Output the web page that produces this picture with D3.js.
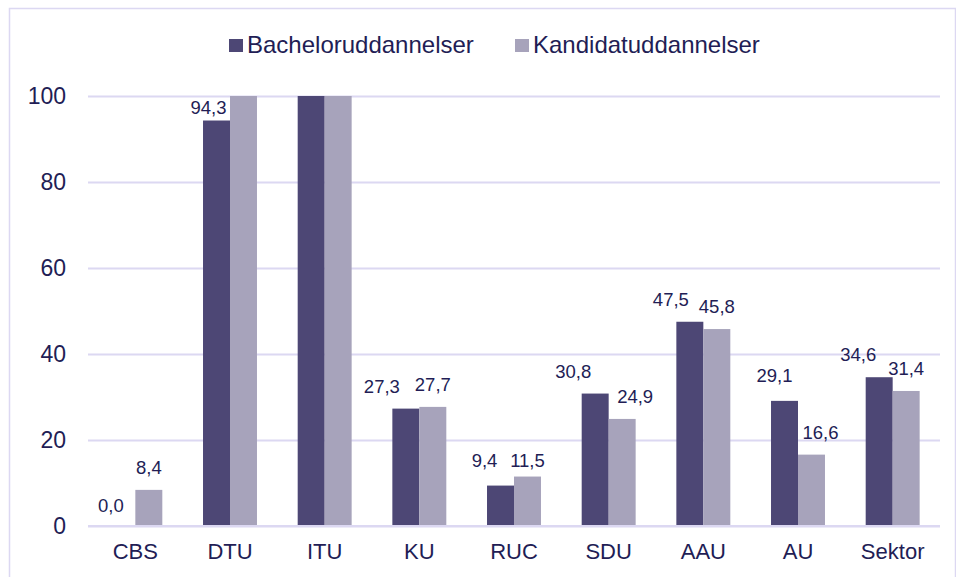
<!DOCTYPE html>
<html>
<head>
<meta charset="utf-8">
<script src="https://cdn.jsdelivr.net/npm/d3@7"></script>
<style>
  body { margin: 0; background: #fff; }
  text { font-family: "Liberation Sans", Arial, sans-serif; fill: #221d55; }
</style>
</head>
<body>
<div id="my_dataviz"></div>
<script>
// data
var categories = ["CBS", "DTU", "ITU", "KU", "RUC", "SDU", "AAU", "AU", "Sektor"];
var bachelor = [0.0, 94.3, 100, 27.3, 9.4, 30.8, 47.5, 29.1, 34.6];
var kandidat = [8.4, 100, 100, 27.7, 11.5, 24.9, 45.8, 16.6, 31.4];
var seriesNames = ["Bacheloruddannelser", "Kandidatuddannelser"];
var yTicks = [0, 20, 40, 60, 80, 100];

// label nudges (as placed in the original), [dx, dy]
var nudgeBach = [[-11, 2], [-8, 9], [0, 0], [-24, 0], [-16, -3], [-22, 0], [-19, 0], [-10, -3], [-21, 0]];
var nudgeKand = [[0, 0], [0, 0], [0, 0], [0, 0], [0, 6], [13, 0], [0, 0], [9, 0], [0, 0]];

var W = 956, H = 577;
var colors = ["#4d4775", "#a7a3bb"];
var grid = "#dcd8f2";

var svg = d3.select("#my_dataviz")
  .append("svg")
    .attr("width", W)
    .attr("height", H);

// outer frame
svg.append("rect")
  .attr("x", 9.5).attr("y", 8.5)
  .attr("width", 946).attr("height", 620)
  .attr("fill", "none")
  .attr("stroke", grid)
  .attr("stroke-width", 1.5);

var x0 = d3.scaleBand()
  .domain(categories)
  .range([88, 940])
  .paddingInner(0.43)
  .paddingOuter(0.215);

var x1 = d3.scaleBand()
  .domain([0, 1])
  .range([0, x0.bandwidth()]);

var y = d3.scaleLinear()
  .domain([0, 100])
  .range([526, 96]);

// gridlines + y labels
var yAxis = svg.append("g")
  .attr("transform", "translate(88,0)")
  .call(d3.axisLeft(y).tickValues(yTicks).tickSize(-852).tickPadding(22));
yAxis.select(".domain").remove();
yAxis.selectAll(".tick line").attr("stroke", grid).attr("stroke-width", 2);
yAxis.selectAll(".tick text")
  .style("font-size", "23px")
  .style("font-family", "Liberation Sans, Arial, sans-serif")
  .attr("fill", "#221d55");

// bars
var rows = categories.map(function(c, i) { return {cat: c, vals: [bachelor[i], kandidat[i]], i: i}; });

var groups = svg.selectAll(".grp")
  .data(rows)
  .enter()
  .append("g")
    .attr("class", "grp")
    .attr("transform", function(d) { return "translate(" + x0(d.cat) + ",0)"; });

groups.selectAll("rect")
  .data(function(d) { return d.vals.map(function(v, k) { return {v: v, k: k}; }); })
  .enter()
  .append("rect")
    .attr("x", function(d) { return x1(d.k); })
    .attr("y", function(d) { return y(d.v); })
    .attr("width", x1.bandwidth())
    .attr("height", function(d) { return y(0) - y(d.v); })
    .attr("fill", function(d) { return colors[d.k]; });

// value labels (values at the top of the axis are not shown)
var fmt = function(v) { return d3.format(".1f")(v).replace(".", ","); };
groups.each(function(d) {
  var g = d3.select(this);
  d.vals.forEach(function(v, k) {
    if (v >= 100) return;
    var n = k === 0 ? nudgeBach[d.i] : nudgeKand[d.i];
    g.append("text")
      .attr("x", x1(k) + x1.bandwidth() / 2 + n[0])
      .attr("y", y(v) - 16 + n[1])
      .attr("text-anchor", "middle")
      .style("font-size", "18.5px")
      .text(fmt(v));
  });
});

// baseline
svg.append("line")
  .attr("x1", 88).attr("x2", 940)
  .attr("y1", y(0)).attr("y2", y(0))
  .attr("stroke", grid)
  .attr("stroke-width", 2);

// x labels
var xAxis = svg.append("g")
  .attr("transform", "translate(0," + y(0) + ")")
  .call(d3.axisBottom(x0).tickSize(0).tickPadding(17));
xAxis.select(".domain").remove();
xAxis.selectAll(".tick text")
  .style("font-size", "22px")
  .style("font-family", "Liberation Sans, Arial, sans-serif")
  .attr("fill", "#221d55");

// legend
var legend = svg.append("g");
var lx = [229, 515];
seriesNames.forEach(function(name, k) {
  legend.append("rect")
    .attr("x", lx[k]).attr("y", 39)
    .attr("width", 14).attr("height", 13)
    .attr("fill", colors[k]);
  legend.append("text")
    .attr("x", lx[k] + 18).attr("y", 53)
    .style("font-size", "24px")
    .text(name);
});
</script>
</body>
</html>
